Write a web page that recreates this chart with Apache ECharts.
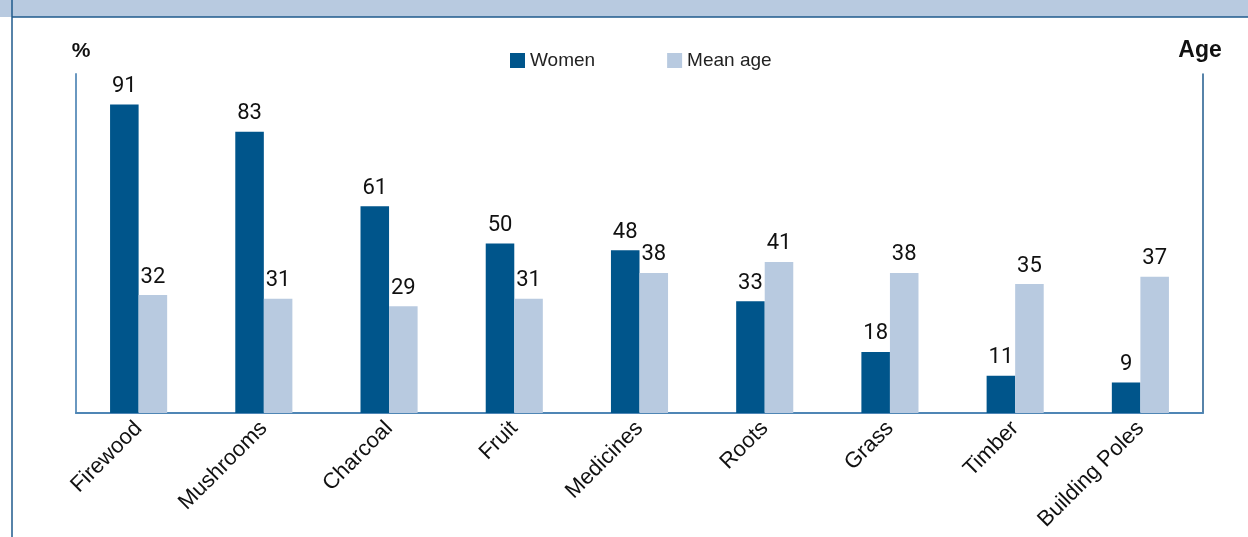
<!DOCTYPE html>
<html>
<head>
<meta charset="utf-8">
<script src="https://cdn.jsdelivr.net/npm/echarts@6/dist/echarts.min.js"></script>
<style>
  html, body { margin: 0; padding: 0; background: #fff; }
  #chart { width: 1248px; height: 537px; }
</style>
</head>
<body>
<div id="chart"></div>
<script>
// data
const categories = ['Firewood', 'Mushrooms', 'Charcoal', 'Fruit', 'Medicines', 'Roots', 'Grass', 'Timber', 'Building Poles'];
const women = [91, 83, 61, 50, 48, 33, 18, 11, 9];
const meanAge = [32, 31, 29, 31, 38, 41, 38, 35, 37];

const chart = echarts.init(document.getElementById('chart'));

chart.setOption({
    animation: false,
    // header band + left frame line
    graphic: [
        { type: 'rect', shape: { x: 0, y: 0, width: 1248, height: 17 }, style: { fill: '#b8cae0' } },
        { type: 'line', shape: { x1: 12, y1: 17, x2: 1248, y2: 17 }, style: { stroke: '#1f5a8c', lineWidth: 1.5 } },
        { type: 'line', shape: { x1: 12, y1: 0, x2: 12, y2: 537 }, style: { stroke: '#1f5a8c', lineWidth: 1.5 } },
    ],
    legend: {
        top: 46,
        left: 505,
        itemWidth: 15,
        itemHeight: 15,
        itemGap: 72,
        icon: 'rect',
        textStyle: { fontFamily: 'Liberation Sans', fontSize: 19, color: '#222' },
        data: ['Women', 'Mean age'],
    },
    grid: { left: 76, right: 45, top: 74, bottom: 124 },
    xAxis: {
        type: 'category',
        data: categories,
        axisLine: { lineStyle: { color: '#4f86b5', width: 2 } },
        axisTick: { show: false },
        axisLabel: {
            rotate: 45,
            interval: 0,
            margin: 12,
            fontFamily: 'Liberation Sans',
            fontSize: 22,
            color: '#111',
        },
    },
    yAxis: [
        {
            type: 'value',
            min: 0,
            max: 100,
            name: '%',
            nameLocation: 'end',
            nameGap: 12,
            nameTextStyle: { fontFamily: 'Liberation Sans', fontWeight: 'bold', fontSize: 21, color: '#111', padding: [0, 0, 0, 10] },
            axisLine: { show: true, lineStyle: { color: '#6a98c0', width: 2 } },
            axisTick: { show: false },
            axisLabel: { show: false },
            splitLine: { show: false },
        },
        {
            type: 'value',
            min: 0,
            max: 92,
            name: 'Age',
            nameLocation: 'end',
            nameGap: 12,
            nameTextStyle: { fontFamily: 'Liberation Sans', fontWeight: 'bold', fontSize: 23, color: '#111', padding: [0, 6, 0, 0] },
            axisLine: { show: true, lineStyle: { color: '#1f5a8c', width: 1.5 } },
            axisTick: { show: false },
            axisLabel: { show: false },
            splitLine: { show: false },
        },
    ],
    series: [
        {
            name: 'Women',
            type: 'bar',
            yAxisIndex: 0,
            data: women,
            barWidth: '22.8%',
            barGap: '0%',
            itemStyle: { color: '#00558b' },
            label: { show: true, position: 'top', distance: 7, fontFamily: 'Roboto', fontSize: 22, color: '#111' },
        },
        {
            name: 'Mean age',
            type: 'bar',
            yAxisIndex: 1,
            data: meanAge,
            barWidth: '22.8%',
            barGap: '0%',
            itemStyle: { color: '#b8cae0' },
            label: { show: true, position: 'top', distance: 7, fontFamily: 'Roboto', fontSize: 22, color: '#111' },
        },
    ],
});
</script>
</body>
</html>
